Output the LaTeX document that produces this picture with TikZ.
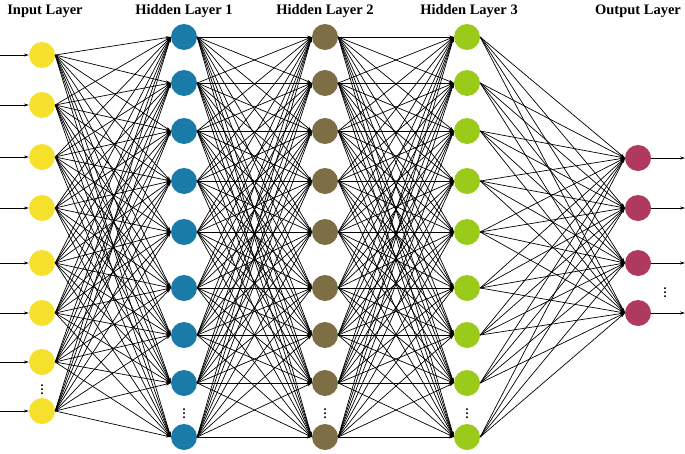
\documentclass[tikz,border=0pt]{standalone}
\usepackage{fontspec}
\setmainfont{Liberation Serif}
\usetikzlibrary{positioning, arrows.meta}
\definecolor{inyellow}{HTML}{F5E12B}
\definecolor{hidblue}{HTML}{1A7BA8}
\definecolor{hidbrown}{HTML}{7D6E45}
\definecolor{hidgreen}{HTML}{9BCB1A}
\definecolor{outred}{HTML}{B03A5E}
\tikzset{
    neuron/.style={circle, minimum size=26pt, inner sep=0pt, draw=none},
    layertitle/.style={font=\bfseries\fontsize{14.5}{16}\selectfont},
    gap/.style={inner sep=0pt, font=\bfseries\large},
    wire/.style={-{Stealth[length=5pt, width=3pt]}, line width=0.7pt},
}
\begin{document}
\begin{tikzpicture}[x=1pt, y=-1pt]
    \useasboundingbox (0,0) rectangle (685,453);

    % titles
    \node[layertitle] (tin) at (45,11) {Input Layer};
    \node[layertitle] (th1) at (184,11) {Hidden Layer 1};
    \node[layertitle] (th2) at (325,11) {Hidden Layer 2};
    \node[layertitle] (th3) at (469,11) {Hidden Layer 3};
    \node[layertitle] (tout) at (638,11) {Output Layer};

    % layers
    \foreach \y [count=\i] in {55,105,157,208,263,313,362,411}
      \node[neuron, fill=inyellow] (in\i) at (42,\y) {};
    \foreach \y [count=\i] in {37,83,131,181,232,288,335,383,437} {
      \node[neuron, fill=hidblue] (ha\i) at (184,\y) {};
      \node[neuron, fill=hidbrown] (hb\i) at (325,\y) {};
      \node[neuron, fill=hidgreen] (hc\i) at (467,\y) {};
    }
    \foreach \y [count=\i] in {158,208,263,313}
      \node[neuron, fill=outred] (out\i) at (638,\y) {};

    % dots
    \node[gap] (din) at (42,387) {$\vdots$};
    \node[gap] (dha) at (184,411) {$\vdots$};
    \node[gap] (dhb) at (325,411) {$\vdots$};
    \node[gap] (dhc) at (467,411) {$\vdots$};
    \node[gap] (dout) at (665,290) {$\vdots$};

    % inputs and outputs
    \foreach \i in {1,...,8} {
      \coordinate (src\i) at (0,0 |- in\i);
      \draw[wire] (src\i) -- (in\i.west);
    }
    \foreach \i in {1,...,4} {
      \coordinate (dst\i) at (685,0 |- out\i);
      \draw[wire] (out\i.east) -- (dst\i);
    }

    % connections
    \foreach \i in {1,...,8}
      \foreach \j in {1,...,9}
        \draw[wire] (in\i.east) -- (ha\j.west);
    \foreach \i in {1,...,9}
      \foreach \j in {1,...,9} {
        \draw[wire] (ha\i.east) -- (hb\j.west);
        \draw[wire] (hb\i.east) -- (hc\j.west);
      }
    \foreach \i in {1,...,9}
      \foreach \j in {1,...,4}
        \draw[wire] (hc\i.east) -- (out\j.west);
\end{tikzpicture}
\end{document}
